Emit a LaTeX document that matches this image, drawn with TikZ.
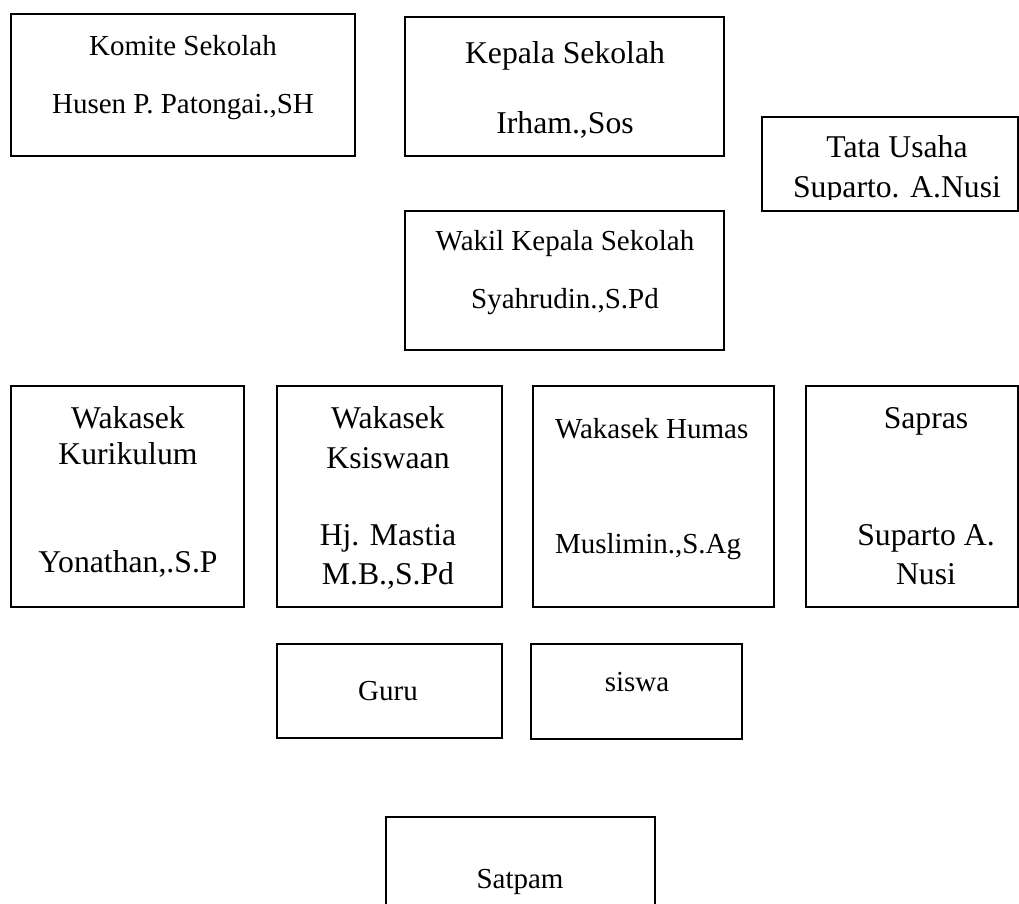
\documentclass[tikz,border=0pt]{standalone}
\usepackage{fontspec}
\setmainfont{Liberation Serif}
\tikzset{
  box/.style={draw, line width=2.5pt, inner sep=0pt, outer sep=0pt},
  lbl/.style={anchor=base, inner sep=0pt, outer sep=0pt},
  big/.style={font=\fontsize{31.7}{36}\selectfont},
  small/.style={font=\fontsize{29}{33}\selectfont}
}
\begin{document}
\begin{tikzpicture}[x=1pt,y=-1pt]
\clip (0,0) rectangle (1019,903);
\fill[white] (0,0) rectangle (1019,903);
% boxes
\node[box, minimum width=344pt, minimum height=142pt] (komite) at (183,85) {};
\node[box, minimum width=319pt, minimum height=139pt] (kepala) at (564.5,86.5) {};
\node[box, minimum width=256pt, minimum height=94pt] (tata) at (890,164) {};
\node[box, minimum width=319pt, minimum height=139pt] (wakil) at (564.5,280.5) {};
\node[box, minimum width=233pt, minimum height=221pt] (kur) at (127.5,496.5) {};
\node[box, minimum width=225pt, minimum height=221pt] (ksis) at (389.5,496.5) {};
\node[box, minimum width=241pt, minimum height=221pt] (humas) at (653.5,496.5) {};
\node[box, minimum width=212pt, minimum height=221pt] (sapras) at (912,496.5) {};
\node[box, minimum width=225pt, minimum height=94pt] (guru) at (389.5,691) {};
\node[box, minimum width=211pt, minimum height=95pt] (siswa) at (636.5,691.5) {};
\node[box, minimum width=269pt, minimum height=143pt] (satpam) at (520.5,888.5) {};
% texts
\node[lbl, small] (t1a) at (183,55) {Komite Sekolah};
\node[lbl, small] (t1b) at (183,113) {Husen P. Patongai.,SH};
\node[lbl, big] (t2a) at (565,63) {Kepala Sekolah};
\node[lbl, big] (t2b) at (565,133) {Irham.,Sos};
\begin{scope}
\clip (762,117) rectangle (1018,199);
\node[lbl, big] (t3a) at (897,157) {Tata Usaha};
\node[lbl, big] (t3b) at (897,197) {Suparto. A.Nusi};
\end{scope}
\node[lbl, small] (t4a) at (565,250) {Wakil Kepala Sekolah};
\node[lbl, small] (t4b) at (565,308) {Syahrudin.,S.Pd};
\node[lbl, big] (t5a) at (128,428) {Wakasek};
\node[lbl, big] (t5b) at (128,464) {Kurikulum};
\node[lbl, big] (t5c) at (128,572) {Yonathan,.S.P};
\node[lbl, big] (t6a) at (388,428) {Wakasek};
\node[lbl, big] (t6b) at (388,468) {Ksiswaan};
\node[lbl, big] (t6c) at (388,545) {Hj. Mastia};
\node[lbl, big] (t6d) at (388,584) {M.B.,S.Pd};
\node[lbl, small, anchor=base west] (t7a) at (555,438) {Wakasek Humas};
\node[lbl, small, anchor=base west] (t7b) at (555,553) {Muslimin.,S.Ag};
\node[lbl, big] (t8a) at (926,428) {Sapras};
\node[lbl, big] (t8b) at (926,545) {Suparto A.};
\node[lbl, big] (t8c) at (926,584) {Nusi};
\node[lbl, small] (t9) at (388,700) {Guru};
\node[lbl, small] (t10) at (637,691) {siswa};
\node[lbl, small] (t11) at (520,888) {Satpam};
\end{tikzpicture}
\end{document}
